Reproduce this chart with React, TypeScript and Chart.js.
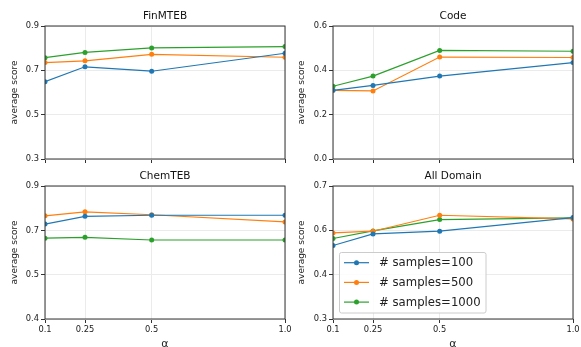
import { useEffect, useRef } from 'react';
import { Chart, registerables } from 'chart.js';

Chart.register(...registerables);

// ---------- data ----------
const alphas = [0.1, 0.25, 0.5, 1.0];
const xTickLabels = ['0.1', '0.25', '0.5', '1.0'];
const seriesLabels = ['# samples=100', '# samples=500', '# samples=1000'];
const seriesColors = ['#1f77b4', '#ff7f0e', '#2ca02c'];

const finmteb100 = [0.649, 0.716, 0.696, 0.777];
const finmteb500 = [0.735, 0.743, 0.772, 0.759];
const finmteb1000 = [0.757, 0.781, 0.801, 0.807];
const finmtebYTicks = [0.3, 0.5, 0.7, 0.9];
const finmtebYLabels = ['0.3', '0.5', '0.7', '0.9'];

const code100 = [0.31, 0.332, 0.374, 0.435];
const code500 = [0.31, 0.307, 0.46, 0.458];
const code1000 = [0.328, 0.374, 0.49, 0.486];
const codeYTicks = [0.0, 0.2, 0.4, 0.6];
const codeYLabels = ['0.0', '0.2', '0.4', '0.6'];

const chem100 = [0.757, 0.786, 0.79, 0.79];
const chem500 = [0.788, 0.803, 0.792, 0.765];
const chem1000 = [0.704, 0.707, 0.697, 0.697];
const chemYTicks = [0.4, 0.5667, 0.7333, 0.9];
const chemYLabels = ['0.4', '0.5', '0.7', '0.9'];

const all100 = [0.521, 0.556, 0.564, 0.605];
const all500 = [0.559, 0.564, 0.612, 0.601];
const all1000 = [0.542, 0.565, 0.599, 0.604];
const allYTicks = [0.3, 0.4333, 0.5667, 0.7];
const allYLabels = ['0.3', '0.4', '0.6', '0.7'];

const FONT = "'DejaVu Sans', sans-serif";
const W = 581;
const H = 350;

type Panel = {
  title: string;
  series: number[][];
  yTicks: number[];
  yLabels: string[];
  col: number;
  row: number;
  legend: boolean;
};

const panels: Panel[] = [
  { title: 'FinMTEB', series: [finmteb100, finmteb500, finmteb1000], yTicks: finmtebYTicks, yLabels: finmtebYLabels, col: 0, row: 0, legend: false },
  { title: 'Code', series: [code100, code500, code1000], yTicks: codeYTicks, yLabels: codeYLabels, col: 1, row: 0, legend: false },
  { title: 'ChemTEB', series: [chem100, chem500, chem1000], yTicks: chemYTicks, yLabels: chemYLabels, col: 0, row: 1, legend: false },
  { title: 'All Domain', series: [all100, all500, all1000], yTicks: allYTicks, yLabels: allYLabels, col: 1, row: 1, legend: true },
];

const framePlugin = {
  id: 'frame',
  afterDatasetsDraw(chart: any) {
    const { ctx, chartArea } = chart;
    ctx.save();
    ctx.strokeStyle = '#333333';
    ctx.lineWidth = 1;
    ctx.strokeRect(chartArea.left, chartArea.top, chartArea.right - chartArea.left, chartArea.bottom - chartArea.top);
    ctx.restore();
  },
};

const legendPlugin = {
  id: 'insideLegend',
  afterDraw(chart: any) {
    const opts = chart.options.plugins.insideLegend;
    if (!opts || !opts.display) return;
    const { ctx, chartArea } = chart;
    const x0 = chartArea.left + 6.5;
    const y0 = chartArea.bottom - 66.5;
    const w = 146.5;
    const h = 60.5;
    ctx.save();
    ctx.beginPath();
    ctx.roundRect(x0, y0, w, h, 2);
    ctx.fillStyle = 'rgba(255,255,255,0.85)';
    ctx.fill();
    ctx.strokeStyle = '#cccccc';
    ctx.lineWidth = 1;
    ctx.stroke();
    chart.data.datasets.forEach((ds: any, i: number) => {
      const y = y0 + 10.2 + i * 19.7;
      ctx.strokeStyle = ds.borderColor;
      ctx.lineWidth = 1.2;
      ctx.beginPath();
      ctx.moveTo(x0 + 4.5, y);
      ctx.lineTo(x0 + 29.5, y);
      ctx.stroke();
      ctx.fillStyle = ds.borderColor;
      ctx.beginPath();
      ctx.arc(x0 + 17, y, 2.5, 0, Math.PI * 2);
      ctx.fill();
      ctx.fillStyle = '#222222';
      ctx.font = `11.7px ${FONT}`;
      ctx.textBaseline = 'middle';
      ctx.textAlign = 'left';
      ctx.fillText(ds.label, x0 + 39.5, y + 0.5);
    });
    ctx.restore();
  },
};

function makeConfig(p: Panel): any {
  const padLeft = p.col === 0 ? 0 : 290;
  const padRight = p.col === 0 ? 296 : 8;
  const yWidth = p.col === 0 ? 45 : 43;
  const yTitlePad = p.col === 0 ? 9.6 : 6.6;
  const padTop = p.row === 0 ? 0 : 160;
  const xHeight = p.row === 0 ? 10 : 31;
  const padBottom = p.row === 0 ? H - 159 - 10 : 0;
  const bottomRow = p.row === 1;

  return {
    type: 'line',
    data: {
      datasets: p.series.map((vals, i) => ({
        label: seriesLabels[i],
        data: alphas.map((a, j) => ({ x: a, y: vals[j] })),
        borderColor: seriesColors[i],
        backgroundColor: seriesColors[i],
        pointBackgroundColor: seriesColors[i],
        pointBorderWidth: 0,
        pointRadius: 2.5,
        borderWidth: 1.2,
        tension: 0,
        clip: 0,
      })),
    },
    options: {
      responsive: false,
      animation: false,
      devicePixelRatio: 1,
      layout: { padding: { left: padLeft, right: padRight, top: padTop, bottom: padBottom } },
      plugins: {
        legend: { display: false },
        tooltip: { enabled: false },
        title: {
          display: true,
          text: p.title,
          fullSize: false,
          color: '#111111',
          font: { family: FONT, size: 10.5, weight: 'normal' },
          padding: { top: 9.7, bottom: 3.7 },
        },
        insideLegend: { display: p.legend },
      },
      scales: {
        x: {
          type: 'linear',
          min: 0.1,
          max: 1.0,
          afterBuildTicks: (s: any) => {
            s.ticks = alphas.map((v) => ({ value: v }));
          },
          afterFit: (s: any) => {
            s.height = xHeight;
            s.paddingLeft = 0;
            s.paddingRight = 0;
          },
          ticks: {
            display: bottomRow,
            autoSkip: false,
            maxRotation: 0,
            padding: 2,
            color: '#222222',
            font: { family: FONT, size: 8.3 },
            callback: (_v: any, i: number) => xTickLabels[i],
          },
          grid: { color: '#ebebeb', tickColor: '#333333', tickLength: 4, lineWidth: 1 },
          border: { display: false },
          title: {
            display: bottomRow,
            text: 'α',
            color: '#222222',
            font: { family: FONT, size: 11, lineHeight: 1 },
            padding: { top: 0, bottom: 0 },
          },
        },
        y: {
          type: 'linear',
          min: p.yTicks[0],
          max: p.yTicks[p.yTicks.length - 1],
          afterBuildTicks: (s: any) => {
            s.ticks = p.yTicks.map((v) => ({ value: v }));
          },
          afterFit: (s: any) => {
            s.width = yWidth;
            s.paddingTop = 0;
            s.paddingBottom = 0;
          },
          ticks: {
            autoSkip: false,
            padding: 2,
            color: '#222222',
            font: { family: FONT, size: 8.3 },
            callback: (_v: any, i: number) => p.yLabels[i],
          },
          grid: { color: '#ebebeb', tickColor: '#333333', tickLength: 4, lineWidth: 1 },
          border: { display: false },
          title: {
            display: true,
            text: 'average score',
            color: '#222222',
            font: { family: FONT, size: 9 },
            padding: { top: yTitlePad, bottom: 0 },
          },
        },
      },
    },
    plugins: [framePlugin, legendPlugin],
  };
}

export default function App() {
  const refs = useRef<(HTMLCanvasElement | null)[]>([]);

  useEffect(() => {
    const charts = panels.map((p, i) => new Chart(refs.current[i] as HTMLCanvasElement, makeConfig(p)));
    return () => charts.forEach((c) => c.destroy());
  }, []);

  return (
    <div style={{ position: 'fixed', left: 0, top: 0, width: W, height: 347, overflow: 'hidden', background: '#ffffff' }}>
      {panels.map((p, i) => (
        <canvas
          key={p.title}
          ref={(el) => {
            refs.current[i] = el;
          }}
          width={W}
          height={H}
          style={{ position: 'absolute', left: 0, top: 0, width: W, height: H }}
        />
      ))}
    </div>
  );
}
